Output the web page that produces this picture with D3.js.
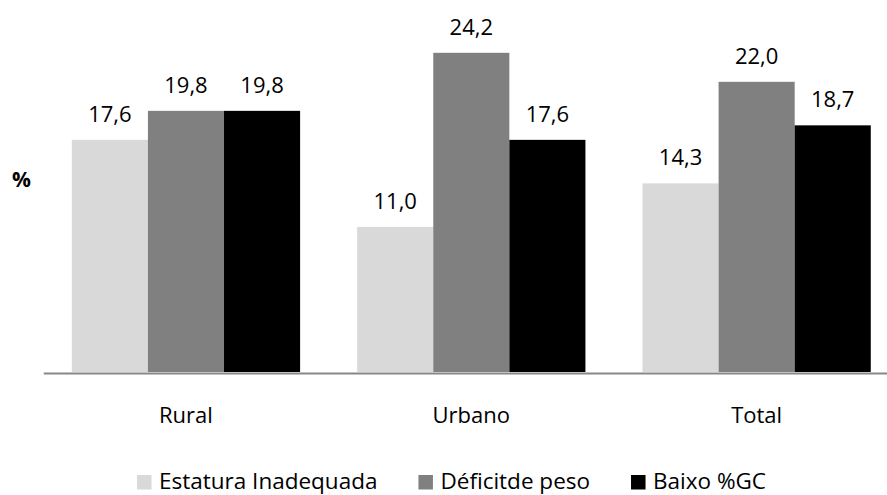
<!DOCTYPE html>
<html>
<head>
<meta charset="utf-8">
<script src="https://cdn.jsdelivr.net/npm/d3@7"></script>
<style>
  html, body { margin: 0; padding: 0; background: #fff; }
  svg { display: block; }
  text { font-family: "Open Sans", sans-serif; fill: #000; }
</style>
</head>
<body>
<svg id="chart" width="887" height="495"></svg>
<script>
// Áreas (categorias do eixo X)
const categories = ["Rural", "Urbano", "Total"];

// Séries (%)
const seriesNames = ["Estatura Inadequada", "Déficitde peso", "Baixo %GC"];
const estaturaInadequada = [17.6, 11.0, 14.3];
const deficitPeso = [19.8, 24.2, 22.0];
const baixoGC = [19.8, 17.6, 18.7];
const seriesColors = ["#d9d9d9", "#808080", "#000000"];

const seriesValues = [estaturaInadequada, deficitPeso, baixoGC];
const fmt = v => v.toFixed(1).replace(".", ",");

const svg = d3.select("#chart");

const x0 = d3.scaleBand()
  .domain(categories)
  .range([43.3, 899.3])
  .paddingInner(0.2)
  .paddingOuter(0.1);

const x1 = d3.scaleBand()
  .domain(seriesNames)
  .range([0, x0.bandwidth()])
  .padding(0);

const y = d3.scaleLinear()
  .domain([0, 25])
  .range([372, 372 - 25 * 13.19]);

const rows = categories.map((c, i) => ({
  cat: c,
  vals: seriesNames.map((s, j) => ({ series: s, value: seriesValues[j][i], color: seriesColors[j] }))
}));

const groups = svg.append("g")
  .selectAll("g")
  .data(rows)
  .join("g")
  .attr("transform", d => `translate(${x0(d.cat)},0)`);

groups.selectAll("rect")
  .data(d => d.vals)
  .join("rect")
  .attr("x", d => x1(d.series))
  .attr("y", d => y(d.value))
  .attr("width", x1.bandwidth())
  .attr("height", d => y(0) - y(d.value))
  .attr("fill", d => d.color);

groups.selectAll("text.val")
  .data(d => d.vals)
  .join("text")
  .attr("class", "val")
  .attr("x", d => x1(d.series) + x1.bandwidth() / 2)
  .attr("y", d => y(d.value) - 18)
  .attr("text-anchor", "middle")
  .style("font-size", "22px")
  .text(d => fmt(d.value));

// Eixo X: linha de base e rótulos das categorias
const xAxis = svg.append("g")
  .attr("transform", `translate(0,${y(0) + 1})`)
  .call(d3.axisBottom(x0).tickSize(0).tickPadding(34).tickSizeOuter(0));
xAxis.select(".domain").attr("stroke", "#878787").attr("stroke-width", 2.2);
xAxis.selectAll("text")
  .style("font-family", "'Open Sans', sans-serif")
  .style("font-size", "22px")
  .attr("fill", "#000");

// Título do eixo Y
svg.append("text")
  .attr("x", 12)
  .attr("y", 187)
  .style("font-size", "21px")
  .style("font-weight", "bold")
  .text("%");

// Legenda
const legend = svg.append("g");
let lx = 137;
seriesNames.forEach((name, j) => {
  legend.append("rect")
    .attr("x", lx)
    .attr("y", 475)
    .attr("width", 14.5)
    .attr("height", 14.5)
    .attr("fill", seriesColors[j]);
  const t = legend.append("text")
    .attr("x", lx + 22)
    .attr("y", 488.5)
    .style("font-size", "22.5px")
    .text(name);
  lx += 22 + t.node().getComputedTextLength() + 41;
});
</script>
</body>
</html>
